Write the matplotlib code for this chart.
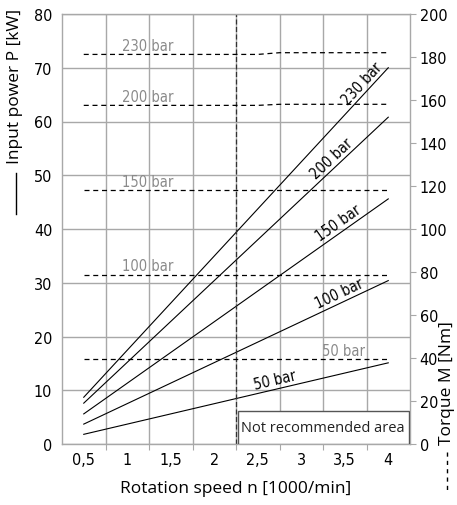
import numpy as np
import matplotlib.pyplot as plt
from matplotlib.patches import Rectangle
from matplotlib.lines import Line2D

# pressure levels
pressures = ['50 bar', '100 bar', '150 bar', '200 bar', '230 bar']

# input power P [kW] at n = 0.5 and n = 4 (1000/min)
speed_ends = [0.5, 4.0]
power_50 = [1.8, 15.1]
power_100 = [3.7, 30.4]
power_150 = [5.6, 45.6]
power_200 = [7.6, 60.8]
power_230 = [8.7, 70.0]
powers = [power_50, power_100, power_150, power_200, power_230]

# torque M [Nm] (roughly constant over speed)
speed_torque = [0.5, 1.5, 2.5, 2.75, 3.5, 4.0]
torque_50 = [39.4, 39.4, 39.4, 39.4, 39.4, 39.4]
torque_100 = [78.8, 78.8, 78.8, 78.8, 78.8, 78.8]
torque_150 = [118.0, 118.0, 118.0, 118.0, 118.0, 118.0]
torque_200 = [157.5, 157.5, 157.5, 158.0, 158.0, 158.0]
torque_230 = [181.2, 181.2, 181.2, 182.0, 182.0, 182.0]
torques = [torque_50, torque_100, torque_150, torque_200, torque_230]

x_ticks = [0.5, 1, 1.5, 2, 2.5, 3, 3.5, 4]
x_tick_labels = ['0,5', '1', '1,5', '2', '2,5', '3', '3,5', '4']
limit_speed = 2.25

# label x-positions along the curves
power_label_x = [2.72, 3.48, 3.48, 3.41, 3.76]
torque_label_x = [3.49, 1.23, 1.23, 1.23, 1.23]

plt.rcParams['font.family'] = ['DejaVu Sans']
plt.rcParams['font.stretch'] = 'condensed'
label_font = ['Open Sans', 'DejaVu Sans']
grid_c = '#a8a8a8'
grey_txt = '#8a8a8a'

W, H = 457, 506
fig = plt.figure(figsize=(W / 100, H / 100), dpi=100)
ax = fig.add_axes([62 / W, 1 - 445 / H, 348 / W, 430 / H])
ax.set_xlim(0.25, 4.25)
ax.set_ylim(0, 80)

# grid sits between the labelled speeds
ax.set_xticks(np.arange(0.75, 4.25, 0.5))
ax.set_xticklabels([])
ax.set_xticks(x_ticks, minor=True)
ax.set_xticklabels(x_tick_labels, minor=True)
ax.set_yticks(np.arange(0, 81, 10))
ax.tick_params(axis='x', which='major', length=4, color=grid_c, direction='out')
ax.tick_params(axis='x', which='minor', length=0, labelsize=11.5, pad=6)
ax.tick_params(axis='y', length=0, labelsize=11.5, pad=7)
ax.grid(True, color=grid_c, lw=1.0)
ax.set_axisbelow(True)
for s in ax.spines.values():
    s.set_color(grid_c)
    s.set_linewidth(1.0)

# power curves
for name, p, lx in zip(pressures, powers, power_label_x):
    ax.plot(speed_ends, p, color='black', lw=0.8)
    slope = (p[1] - p[0]) / (speed_ends[1] - speed_ends[0])
    ly = p[0] + slope * (lx - speed_ends[0])
    ang = np.degrees(np.arctan2(slope, 1))
    ax.text(lx, ly + 0.4, name, rotation=ang, transform_rotates_text=True,
            rotation_mode='anchor', ha='center', va='bottom', fontsize=10.5,
            color='black')

ax.axvline(limit_speed, color='#333333', lw=0.9, ls=(0, (4, 2)))

ax.add_patch(Rectangle((limit_speed + 0.02, 0.0), 4.24 - limit_speed - 0.02, 6.2,
                       facecolor='white', edgecolor='#555555', lw=1.0, zorder=5))
ax.text((limit_speed + 4.24) / 2, 3.1, 'Not recommended area', ha='center',
        va='center', fontsize=10.5, family=label_font, stretch='normal',
        color='#222222', zorder=6)

ax.set_xlabel('Rotation speed n [1000/min]', fontsize=12.5,
              family=label_font, stretch='normal', labelpad=9)

# torque axis
ax2 = ax.twinx()
ax2.set_ylim(0, 200)
ax2.set_yticks(np.arange(0, 201, 20))
ax2.tick_params(axis='y', length=4, color=grid_c, labelsize=11.5, pad=3)
for s in ax2.spines.values():
    s.set_visible(False)

for name, t, lx in zip(pressures, torques, torque_label_x):
    ax2.plot(speed_torque, t, color='black', lw=0.9, ls=(0, (4, 3)))
    ax2.text(lx, t[0] + 0.8, name, ha='center', va='bottom', fontsize=10.5,
             color=grey_txt)

# axis titles with their line-style keys
fig.text(15 / W, 1 - 86 / H, 'Input power P [kW]', rotation=90, ha='center',
         va='center', fontsize=12.5, family=label_font, stretch='normal')
fig.add_artist(Line2D([16 / W, 16 / W], [1 - 174 / H, 1 - 215 / H],
                      color='black', lw=1.0))
fig.text(447 / W, 1 - 383 / H, 'Torque M [Nm]', rotation=90, ha='center',
         va='center', fontsize=12.5, family=label_font, stretch='normal')
fig.add_artist(Line2D([447 / W, 447 / W], [1 - 453 / H, 1 - 491 / H],
                      color='black', lw=1.0, ls=(0, (3, 3))))

fig.savefig('out.png', dpi=100)
